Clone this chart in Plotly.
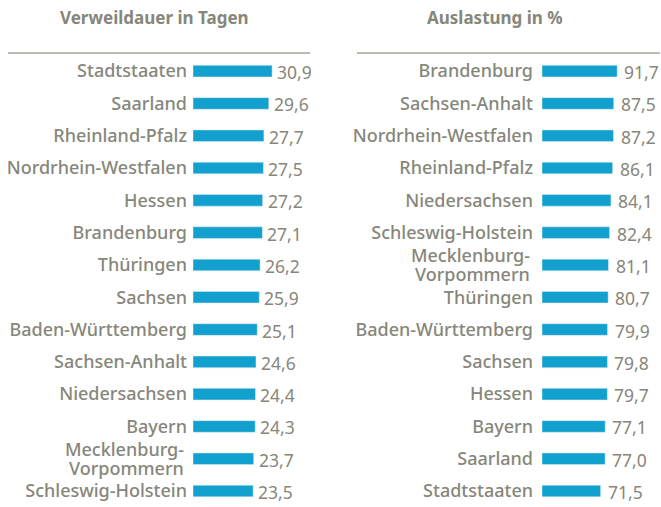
import plotly.graph_objects as go

left_title = "Verweildauer in Tagen"
left_labels = ["Stadtstaaten", "Saarland", "Rheinland-Pfalz", "Nordrhein-Westfalen", "Hessen",
               "Brandenburg", "Thüringen", "Sachsen", "Baden-Württemberg", "Sachsen-Anhalt",
               "Niedersachsen", "Bayern", "Mecklenburg-Vorpommern", "Schleswig-Holstein"]
left_values = [30.9, 29.6, 27.7, 27.5, 27.2, 27.1, 26.2, 25.9, 25.1, 24.6, 24.4, 24.3, 23.7, 23.5]

right_title = "Auslastung in %"
right_labels = ["Brandenburg", "Sachsen-Anhalt", "Nordrhein-Westfalen", "Rheinland-Pfalz",
                "Niedersachsen", "Schleswig-Holstein", "Mecklenburg-Vorpommern", "Thüringen",
                "Baden-Württemberg", "Sachsen", "Hessen", "Bayern", "Saarland", "Stadtstaaten"]
right_values = [91.7, 87.5, 87.2, 86.1, 84.1, 82.4, 81.1, 80.7, 79.9, 79.8, 79.7, 77.1, 77.0, 71.5]

SPLIT = "Mecklenburg-Vorpommern"
SPLIT_LINES = ["Mecklenburg-", "Vorpommern"]

GRAY = "#86867a"
BLUE = "#12a0cf"
FONT = "Noto Sans"
W, H = 661, 507

def px(x):
    return x / W

def py(y):
    return 1 - y / H

def fmt(v):
    return f"{v:.1f}".replace(".", ",")

ROW = 32.3      # pixel pitch of the rows
TOP = 55        # screen y of the first row's top edge
span = (H - TOP) / ROW
yrange = [-0.5 + span, -0.5]

valfont = dict(color=GRAY, size=17.5, family=FONT)
labfont = dict(color=GRAY, size=18, family=FONT, weight=500)

fig = go.Figure()
fig.add_trace(go.Bar(x=left_values, y=left_labels, orientation="h", marker_color=BLUE,
                     xaxis="x", yaxis="y", width=0.36, hoverinfo="skip"))
fig.add_trace(go.Bar(x=right_values, y=right_labels, orientation="h", marker_color=BLUE,
                     xaxis="x2", yaxis="y2", width=0.36, hoverinfo="skip"))

def yax(labels, anchor, standoff):
    return dict(anchor=anchor, domain=[0, py(TOP)], range=yrange, showgrid=False,
                zeroline=False, showline=False, ticks="", automargin=False,
                tickmode="array", tickvals=labels,
                ticktext=["" if l == SPLIT else l for l in labels],
                tickfont=labfont, ticklabelstandoff=standoff)

common_x = dict(showgrid=False, zeroline=False, showline=False, showticklabels=False, ticks="")

annotations = [
    dict(text=f"<b>{left_title}</b>", xref="paper", yref="paper", x=px(154), y=py(18),
         showarrow=False, xanchor="center", yanchor="middle",
         font=dict(size=17, color=GRAY, family=FONT)),
    dict(text=f"<b>{right_title}</b>", xref="paper", yref="paper", x=px(495), y=py(18),
         showarrow=False, xanchor="center", yanchor="middle",
         font=dict(size=17, color=GRAY, family=FONT)),
]
for labels, values, xr, yr, gap, vgap in [(left_labels, left_values, "x", "y", 7, 3),
                                          (right_labels, right_values, "x2", "y2", 10, 5)]:
    idx = labels.index(SPLIT)
    for line, shift in zip(SPLIT_LINES, [9.5, -9.5]):
        annotations.append(dict(text=line, xref=xr, yref=yr, x=0, y=idx, xanchor="right",
                                yanchor="middle", xshift=-gap, yshift=shift, showarrow=False,
                                font=labfont))
    for i, v in enumerate(values):
        annotations.append(dict(text=fmt(v), xref=xr, yref=yr, x=v, y=i, xanchor="left",
                                yanchor="middle", xshift=vgap, yshift=-1, showarrow=False,
                                font=valfont))

fig.update_layout(
    width=W, height=H, margin=dict(l=0, r=0, t=0, b=0),
    paper_bgcolor="white", plot_bgcolor="white", showlegend=False,
    font=dict(family=FONT, color=GRAY),
    xaxis=dict(domain=[px(193), px(193 + 102.4)], range=[0, 40], anchor="y", **common_x),
    yaxis=yax(left_labels, "x", 5),
    xaxis2=dict(domain=[px(542), px(542 + 82)], range=[0, 100], anchor="y2", **common_x),
    yaxis2=yax(right_labels, "x2", 8),
    shapes=[
        dict(type="line", xref="paper", yref="paper", x0=px(8), x1=px(310),
             y0=py(53), y1=py(53), line=dict(color="#a3a397", width=1.5)),
        dict(type="line", xref="paper", yref="paper", x0=px(357), x1=px(660),
             y0=py(53), y1=py(53), line=dict(color="#a3a397", width=1.5)),
    ],
    annotations=annotations,
)

fig.write_html("out.html", config={"displayModeBar": False},
               post_script="document.body.style.margin='0px';document.body.style.overflow='hidden';")
